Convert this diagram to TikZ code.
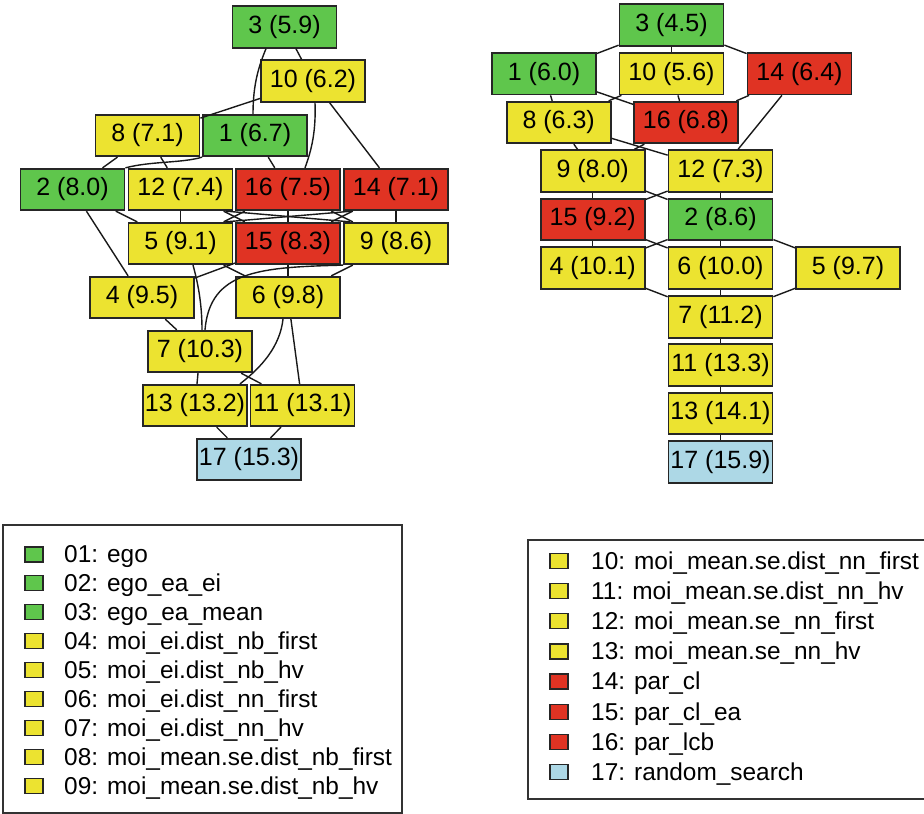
\documentclass[tikz,border=0pt]{standalone}
\usepackage{fontspec}
\setmainfont{Liberation Sans}
\definecolor{cgreen}{HTML}{5FC64C}
\definecolor{cyellow}{HTML}{ECE330}
\definecolor{cred}{HTML}{E03323}
\definecolor{cblue}{HTML}{ADD8E6}
\begin{document}
\begin{tikzpicture}[x=1pt,y=-1pt,
  alg/.style={draw=black!85, line width=1.8pt, minimum width=104pt, minimum height=41.5pt,
    inner sep=0pt, font=\fontsize{25}{30}\selectfont},
  grn/.style={alg, fill=cgreen},
  ylw/.style={alg, fill=cyellow},
  rdd/.style={alg, fill=cred},
  lbl/.style={alg, fill=cblue},
  link/.style={draw=black!90, line width=1.4pt},
  keybox/.style={draw=black!85, line width=1.4pt, minimum width=18pt, minimum height=15pt, inner sep=0pt},
  keytext/.style={anchor=base west, inner sep=0pt, font=\fontsize{24.4}{28}\selectfont},
  keyframe/.style={draw=black!80, line width=1.5pt}
]
\useasboundingbox (0,0) rectangle (924,814);

% ---------- left ranking ----------
\node[grn] (L3)  at (284.5,27)    {3 (5.9)};
\node[ylw] (L10) at (313,81)      {10 (6.2)};
\node[ylw] (L8)  at (147.5,135.5) {8 (7.1)};
\node[grn] (L1)  at (255,135.5)   {1 (6.7)};
\node[grn] (L2)  at (72.5,189.5)  {2 (8.0)};
\node[ylw] (L12) at (180.5,189.5) {12 (7.4)};
\node[rdd] (L16) at (288,189.5)   {16 (7.5)};
\node[rdd] (L14) at (396,189.5)   {14 (7.1)};
\node[ylw] (L5)  at (180.5,243.5) {5 (9.1)};
\node[rdd] (L15) at (288,243.5)   {15 (8.3)};
\node[ylw] (L9)  at (396,243.5)   {9 (8.6)};
\node[ylw] (L4)  at (142,297.5)   {4 (9.5)};
\node[ylw] (L6)  at (288,297.5)   {6 (9.8)};
\node[ylw] (L7)  at (200,351.5)   {7 (10.3)};
\node[ylw] (L13) at (195,405.5)   {13 (13.2)};
\node[ylw] (L11) at (302.5,405.5) {11 (13.1)};
\node[lbl] (L17) at (249,459.5)   {17 (15.3)};

\foreach \a/\b in {L3/L10, L10/L8, L10/L14, L8/L2, L8/L12, L1/L16,
                   L2/L5, L2/L4, L12/L5, L12/L15, L16/L5, L16/L15, L16/L9, L14/L15, L14/L9,
                   L15/L4, L5/L6, L15/L6, L9/L6, L4/L7, L6/L11,
                   L7/L13, L7/L11, L13/L17, L11/L17}
  \draw[link] (\a) -- (\b);
\draw[link] ([xshift=45.5pt]L12.south) -- ([xshift=-46pt]L9.north);
\draw[link] ([xshift=-44pt]L14.south) -- ([xshift=45pt]L5.north);
\draw[link] ([xshift=-18.5pt]L3.south) .. controls +(-7,17) and +(0,-30) .. ([xshift=-2pt]L1.north);
\draw[link] ([xshift=2pt]L10.south) .. controls +(1,28) and +(7,-19) .. ([xshift=17pt]L16.north);
\draw[link] (L1.south west) .. controls +(-20,6) and +(25.5,-6.75) .. (L2.north east);
\draw[link] ([xshift=12.5pt]L5.south) .. controls +(5,18) and +(0,-26) .. ([xshift=2pt]L7.north);
\draw[link] (L9.south west) .. controls +(-84,2) and +(5,-59) .. ([xshift=5pt]L7.north);
\draw[link] ([xshift=-5pt]L6.south) .. controls +(-3,27) and +(22,-17) .. ([xshift=45pt]L13.north);

% ---------- right ranking ----------
\node[grn] (R3)  at (671.5,25)    {3 (4.5)};
\node[grn] (R1)  at (544,73.7)    {1 (6.0)};
\node[ylw] (R10) at (671.5,73.7)  {10 (5.6)};
\node[rdd] (R14) at (799.5,73.7)  {14 (6.4)};
\node[ylw] (R8)  at (558.7,122.5) {8 (6.3)};
\node[rdd] (R16) at (686,122.5)   {16 (6.8)};
\node[ylw] (R9)  at (592.7,171)   {9 (8.0)};
\node[ylw] (R12) at (720.5,171)   {12 (7.3)};
\node[rdd] (R15) at (592.7,219.5) {15 (9.2)};
\node[grn] (R2)  at (720.5,219.5) {2 (8.6)};
\node[ylw] (R4)  at (592.7,268)   {4 (10.1)};
\node[ylw] (R6)  at (720.5,268)   {6 (10.0)};
\node[ylw] (R5)  at (848,268)     {5 (9.7)};
\node[ylw] (R7)  at (720.5,317)   {7 (11.2)};
\node[ylw] (R11) at (720.5,365)   {11 (13.3)};
\node[ylw] (R13) at (720.5,413.5) {13 (14.1)};
\node[lbl] (R17) at (720.5,462)   {17 (15.9)};

\foreach \a/\b in {R3/R1, R3/R10, R3/R14, R1/R8, R1/R16, R10/R8, R10/R16, R14/R16, R14/R12,
                   R8/R9, R8/R12, R16/R9, R9/R15, R9/R2, R12/R15, R12/R2,
                   R15/R4, R15/R6, R2/R4, R2/R6, R2/R5, R4/R7, R6/R7, R5/R7,
                   R7/R11, R11/R13, R13/R17}
  \draw[link] (\a) -- (\b);

% ---------- legends ----------
\draw[keyframe] (3,525) rectangle (402,813);
\foreach \k/\c/\t in {0/cgreen/{01: ego}, 1/cgreen/{02: ego\_ea\_ei}, 2/cgreen/{03: ego\_ea\_mean},
    3/cyellow/{04: moi\_ei.dist\_nb\_first}, 4/cyellow/{05: moi\_ei.dist\_nb\_hv},
    5/cyellow/{06: moi\_ei.dist\_nn\_first}, 6/cyellow/{07: moi\_ei.dist\_nn\_hv},
    7/cyellow/{08: moi\_mean.se.dist\_nb\_first}, 8/cyellow/{09: moi\_mean.se.dist\_nb\_hv}}
{
  \pgfmathsetmacro{\cy}{554.3+28.93*\k}
  \node[keybox, fill=\c] (lk\k) at (34,\cy) {};
  \node[keytext] (lt\k) at (64,\cy+8.3) {\t};
}

\draw[keyframe] (528,540) rectangle (930,799);
\foreach \k/\c/\t in {0/cyellow/{10: moi\_mean.se.dist\_nn\_first}, 1/cyellow/{11: moi\_mean.se.dist\_nn\_hv},
    2/cyellow/{12: moi\_mean.se\_nn\_first}, 3/cyellow/{13: moi\_mean.se\_nn\_hv},
    4/cred/{14: par\_cl}, 5/cred/{15: par\_cl\_ea}, 6/cred/{16: par\_lcb}, 7/cblue/{17: random\_search}}
{
  \pgfmathsetmacro{\cy}{560.7+30.2*\k}
  \node[keybox, fill=\c] (rk\k) at (559,\cy) {};
  \node[keytext] (rt\k) at (591,\cy+8.3) {\t};
}
\end{tikzpicture}
\end{document}
